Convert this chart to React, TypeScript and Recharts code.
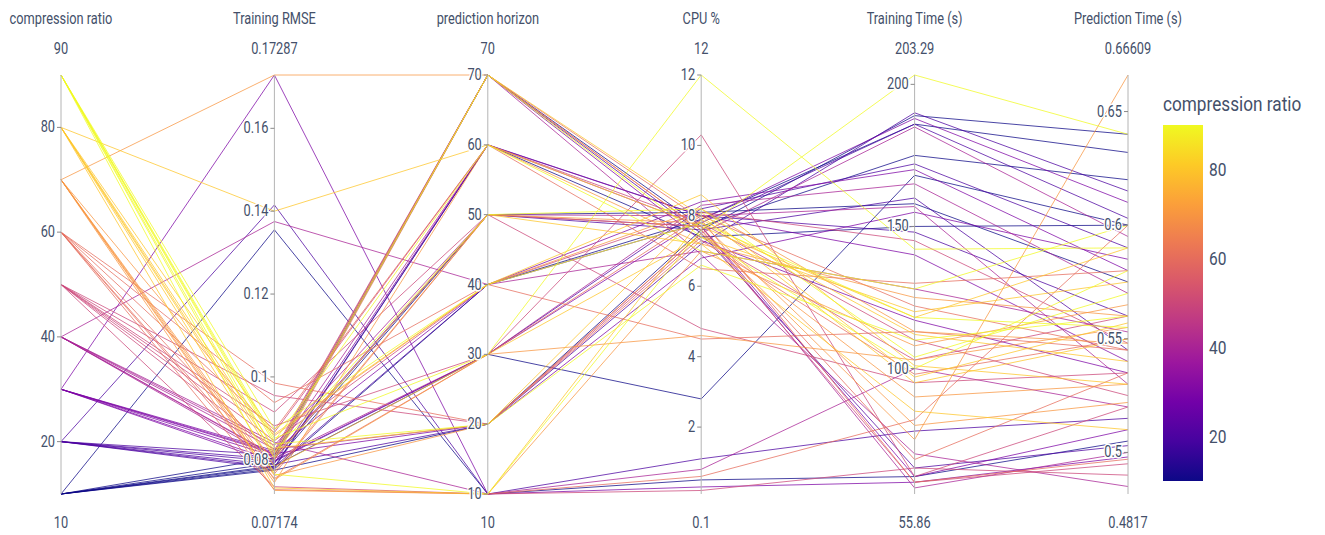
import React from 'react';
import { LineChart, Line, XAxis, YAxis, ReferenceLine, ReferenceDot } from 'recharts';

const dimensions = ['compression ratio', 'Training RMSE', 'prediction horizon', 'CPU %', 'Training Time (s)', 'Prediction Time (s)'];
const rangeMin = [10, 0.07174, 10, 0.1, 55.86, 0.4817];
const rangeMax = [90, 0.17287, 70, 12, 203.29, 0.66609];
const minLabels = ['10', '0.07174', '10', '0.1', '55.86', '0.4817'];
const maxLabels = ['90', '0.17287', '70', '12', '203.29', '0.66609'];
const tickValues = [
  [20, 40, 60, 80],
  [0.08, 0.1, 0.12, 0.14, 0.16],
  [10, 20, 30, 40, 50, 60, 70],
  [2, 4, 6, 8, 10, 12],
  [100, 150, 200],
  [0.5, 0.55, 0.6, 0.65],
];
const tickLabels = [
  ['20', '40', '60', '80'],
  ['0.08', '0.1', '0.12', '0.14', '0.16'],
  ['10', '20', '30', '40', '50', '60', '70'],
  ['2', '4', '6', '8', '10', '12'],
  ['100', '150', '200'],
  ['0.5', '0.55', '0.6', '0.65'],
];
const colorbarTicks = [20, 40, 60, 80];

const compressionRatio = [
  10, 10, 10, 10, 10, 10, 10,
  20, 20, 20, 20, 20, 20, 20,
  30, 30, 30, 30, 30, 30, 30,
  40, 40, 40, 40, 40, 40, 40,
  50, 50, 50, 50, 50, 50, 50,
  60, 60, 60, 60, 60, 60, 60,
  70, 70, 70, 70, 70, 70, 70,
  80, 80, 80, 80, 80, 80, 80,
  90, 90, 90, 90, 90, 90, 90,
];
const trainingRmse = [
  0.1355, 0.0775, 0.0785, 0.0778, 0.0792, 0.0782, 0.0805,
  0.1415, 0.0788, 0.0796, 0.0783, 0.0802, 0.0779, 0.0812,
  0.17287, 0.0815, 0.0798, 0.0822, 0.0808, 0.0792, 0.0818,
  0.0842, 0.0826, 0.0803, 0.1375, 0.0835, 0.0811, 0.0809,
  0.0735, 0.0955, 0.0882, 0.0846, 0.0915, 0.0866, 0.0823,
  0.0728, 0.0985, 0.0755, 0.0938, 0.0766, 0.0872, 0.0799,
  0.0726, 0.0762, 0.0752, 0.0858, 0.0771, 0.0745, 0.17287,
  0.0732, 0.0828, 0.0784, 0.0862, 0.0804, 0.1400, 0.0814,
  0.0765, 0.0838, 0.0852, 0.0874, 0.0819, 0.0845, 0.0806,
];
const predictionHorizon = [
  10, 20, 30, 40, 50, 60, 70,
  10, 20, 30, 40, 50, 60, 70,
  10, 20, 30, 40, 50, 60, 70,
  10, 20, 30, 40, 50, 60, 70,
  10, 20, 30, 40, 50, 60, 70,
  10, 20, 30, 40, 50, 60, 70,
  10, 20, 30, 40, 50, 60, 70,
  10, 20, 30, 40, 50, 60, 70,
  10, 20, 30, 40, 50, 60, 70,
];
const cpuPercent = [
  0.5, 7.6, 2.8, 7.9, 8.1, 7.4, 7.7,
  1.1, 7.2, 8.2, 7.8, 7.6, 8.0, 7.5,
  0.3, 6.8, 7.9, 8.4, 7.7, 8.0, 7.3,
  0.8, 7.5, 8.3, 7.0, 8.0, 7.7, 6.9,
  0.2, 7.4, 10.3, 8.1, 4.8, 7.8, 7.6,
  0.6, 7.3, 8.0, 4.5, 7.7, 6.5, 7.9,
  7.0, 7.5, 4.6, 8.2, 7.8, 7.2, 7.6,
  7.9, 8.1, 7.4, 8.6, 7.2, 7.7, 8.0,
  7.6, 6.6, 12, 7.8, 8.2, 7.0, 7.4,
];
const trainingTime = [
  62, 189, 168, 186, 158, 150, 175,
  78, 190, 172, 186, 160, 148, 65,
  60, 155, 188, 170, 62, 140, 117,
  100, 185, 165, 128, 157, 58, 70,
  65, 103, 62, 145, 95, 110, 60,
  82, 98, 122, 113, 68, 130, 60,
  108, 90, 103, 113, 80, 125, 75,
  112, 97, 120, 101, 85, 118, 95,
  203.29, 110, 142, 118, 104, 128, 100,
];
const predictionTime = [
  0.505, 0.64, 0.6, 0.632, 0.575, 0.6, 0.62,
  0.515, 0.615, 0.59, 0.603, 0.545, 0.56, 0.503,
  0.498, 0.585, 0.61, 0.58, 0.51, 0.54, 0.535,
  0.52, 0.595, 0.57, 0.553, 0.53, 0.5, 0.485,
  0.49, 0.56, 0.52, 0.548, 0.535, 0.525, 0.495,
  0.6, 0.55, 0.545, 0.545, 0.535, 0.58, 0.497,
  0.565, 0.53, 0.555, 0.548, 0.522, 0.56, 0.66609,
  0.54, 0.557, 0.575, 0.53, 0.51, 0.59, 0.55,
  0.64, 0.56, 0.59, 0.555, 0.57, 0.6, 0.58,
];

const plasma = ['#0d0887', '#46039f', '#7201a8', '#9c179e', '#bd3786', '#d8576b', '#ed7953', '#fb9f3a', '#fdca26', '#f0f921'];
const cMin = 10;
const cMax = 90;

function hexToRgb(h: string) {
  return [parseInt(h.slice(1, 3), 16), parseInt(h.slice(3, 5), 16), parseInt(h.slice(5, 7), 16)];
}
function plasmaColor(v: number) {
  const t = Math.max(0, Math.min(1, (v - cMin) / (cMax - cMin)));
  const pos = t * (plasma.length - 1);
  const i = Math.min(plasma.length - 2, Math.floor(pos));
  const f = pos - i;
  const a = hexToRgb(plasma[i]);
  const b = hexToRgb(plasma[i + 1]);
  const c = a.map((x, j) => Math.round(x + (b[j] - x) * f));
  return `rgb(${c[0]},${c[1]},${c[2]})`;
}

const columns = [compressionRatio, trainingRmse, predictionHorizon, cpuPercent, trainingTime, predictionTime];
const norm = (d: number, v: number) => (v - rangeMin[d]) / (rangeMax[d] - rangeMin[d]);

const chartData = dimensions.map((_, d) => {
  const row: Record<string, number> = { dim: d };
  compressionRatio.forEach((_, k) => {
    row['l' + k] = norm(d, columns[d][k]);
  });
  return row;
});

const TEXT = '#44506a';
const FONT = 'Roboto, sans-serif';

function CText({ x, y, text, size, anchor, sx, halo }: any) {
  return (
    <g transform={`translate(${x},${y}) scale(${sx},1)`}>
      <text
        x={0}
        y={0}
        textAnchor={anchor}
        fontFamily={FONT}
        fontSize={size}
        fill={TEXT}
        stroke={halo ? '#ffffff' : 'none'}
        strokeWidth={halo ? 3 : 0}
        strokeLinejoin="round"
        style={{ paintOrder: 'stroke' }}
      >
        {text}
      </text>
    </g>
  );
}

function ColorBar() {
  const top = 40;
  const h = 356;
  const left = 8;
  const w = 40;
  const yOf = (v: number) => top + ((cMax - v) / (cMax - cMin)) * h;
  return (
    <svg width={170} height={420} style={{ overflow: 'visible', display: 'block' }}>
      <defs>
        <linearGradient id="plasmaGrad" x1="0" y1="1" x2="0" y2="0">
          {plasma.map((c, i) => (
            <stop key={i} offset={`${(i / (plasma.length - 1)) * 100}%`} stopColor={c} />
          ))}
        </linearGradient>
      </defs>
      <CText x={left} y={top - 14} text="compression ratio" size={20} anchor="start" sx={0.86} />
      <rect x={left} y={top} width={w} height={h} fill="url(#plasmaGrad)" />
      {colorbarTicks.map((t) => (
        <CText key={t} x={left + w + 6} y={yOf(t) + 6} text={String(t)} size={18} anchor="start" sx={0.86} />
      ))}
    </svg>
  );
}

export default function App() {
  return (
    <div style={{ position: 'absolute', left: 0, top: 0, width: 1325, height: 535, background: '#fff' }}>
      <LineChart width={1325} height={535} data={chartData} margin={{ top: 75, right: 197, bottom: 41, left: 61 }}>
        <XAxis dataKey="dim" type="number" domain={[0, 5]} hide />
        <YAxis type="number" domain={[0, 1]} hide />
        {compressionRatio.map((c, k) => (
          <Line
            key={k}
            dataKey={'l' + k}
            stroke={plasmaColor(c)}
            strokeWidth={1}
            strokeOpacity={0.75}
            dot={false}
            activeDot={false}
            isAnimationActive={false}
            type="linear"
          />
        ))}
        {dimensions.map((_, d) => (
          <ReferenceLine key={'ax' + d} x={d} stroke="#b4b4b4" strokeWidth={1} />
        ))}
        {dimensions.map((name, d) =>
          tickValues[d].map((t, j) => (
            <ReferenceDot
              key={'t' + d + '-' + j}
              x={d}
              y={norm(d, t)}
              ifOverflow="visible"
              shape={(p: any) => (
                <g>
                  <line x1={p.cx - 4} x2={p.cx} y1={p.cy} y2={p.cy} stroke="#888" strokeWidth={1} />
                  <CText x={p.cx - 6} y={p.cy + 5} text={tickLabels[d][j]} size={16} anchor="end" sx={0.8} halo />
                </g>
              )}
            />
          ))
        )}
        {dimensions.map((name, d) => (
          <ReferenceDot
            key={'top' + d}
            x={d}
            y={1}
            ifOverflow="visible"
            shape={(p: any) => (
              <g>
                <CText x={p.cx} y={p.cy - 51} text={name} size={16} anchor="middle" sx={0.8} />
                <CText x={p.cx} y={p.cy - 21} text={maxLabels[d]} size={16} anchor="middle" sx={0.8} />
              </g>
            )}
          />
        ))}
        {dimensions.map((name, d) => (
          <ReferenceDot
            key={'bot' + d}
            x={d}
            y={0}
            ifOverflow="visible"
            shape={(p: any) => <CText x={p.cx} y={p.cy + 34} text={minLabels[d]} size={16} anchor="middle" sx={0.8} />}
          />
        ))}
      </LineChart>
      <div style={{ position: 'absolute', left: 1155, top: 85 }}>
        <ColorBar />
      </div>
    </div>
  );
}
